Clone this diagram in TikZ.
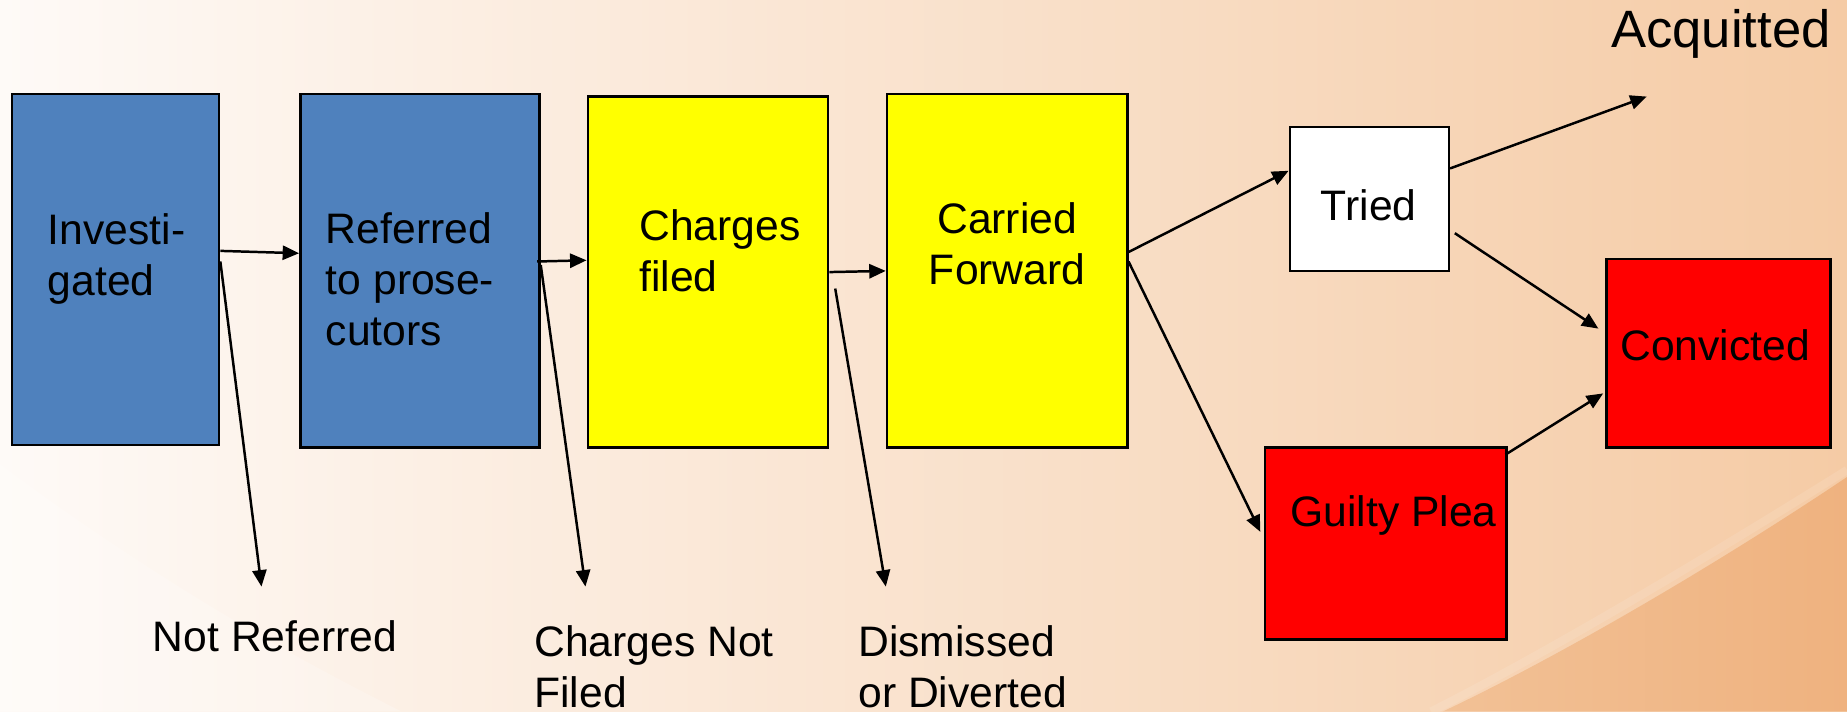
\documentclass[tikz,border=0pt]{standalone}
\usepackage{fontspec}
\setmainfont{Liberation Sans}
\usetikzlibrary{arrows.meta}

\definecolor{stageblue}{HTML}{4F81BD}
\definecolor{stageyellow}{HTML}{FFFF00}
\definecolor{stagered}{HTML}{FF0000}
\definecolor{bgleft}{HTML}{FEFAF7}
\definecolor{bgmid}{HTML}{FCEBDD}
\definecolor{bgright}{HTML}{F5CBA5}
\definecolor{swooshl}{HTML}{F2C196}
\definecolor{swooshr}{HTML}{EFB27F}

\tikzset{
  stage/.style={draw, line width=0.6pt, inner sep=0pt},
  txt/.style={inner sep=0pt, font=\fontsize{10.3}{12.3}\selectfont},
  arr/.style={draw, line width=0.6pt, -{Triangle[length=0.14cm,width=0.12cm]}}
}

\begin{document}
\begin{tikzpicture}
\useasboundingbox (0,0) rectangle (15.68,6.04);

% background
\shade[left color=bgleft, middle color=bgmid, right color=bgright] (0,0) rectangle (15.68,6.04);
\fill[white, opacity=0.2] (0,2.10) .. controls (1.2,1.2) and (2.4,0.5) .. (3.41,0) -- (0,0) -- cycle;
\shade[left color=swooshl, right color=swooshr] (12.25,0) .. controls (13.2,0.45) and (14.5,1.2) .. (15.68,1.99) -- (15.68,0) -- cycle;
\draw[white, opacity=0.1, line width=2pt] (12.15,0) .. controls (13.1,0.48) and (14.4,1.25) .. (15.68,2.05);

% boxes
\node[stage, fill=stageblue, minimum width=1.76cm, minimum height=2.98cm] (inv) at (0.98,3.75) {};
\node[stage, fill=stageblue, minimum width=2.03cm, minimum height=3.00cm] (ref) at (3.565,3.74) {};
\node[stage, fill=stageyellow, minimum width=2.04cm, minimum height=2.98cm] (chg) at (6.01,3.73) {};
\node[stage, fill=stageyellow, minimum width=2.04cm, minimum height=3.00cm] (car) at (8.55,3.74) {};
\node[stage, fill=white, minimum width=1.35cm, minimum height=1.22cm] (tri) at (11.625,4.35) {};
\node[stage, fill=stagered, minimum width=1.90cm, minimum height=1.60cm] (con) at (14.59,3.04) {};
\node[stage, fill=stagered, minimum width=2.05cm, minimum height=1.63cm] (gui) at (11.765,1.425) {};

% texts
\node[txt, anchor=west, align=left] (invt) at (0.40,3.84) {Investi-\\gated};
\node[txt, anchor=west, align=left] (reft) at (2.76,3.67) {Referred\\to prose-\\cutors};
\node[txt, anchor=west, align=left] (chgt) at (5.42,3.91) {Charges\\filed};
\node[txt, align=center] (cart) at (8.55,3.97) {Carried\\Forward};
\node[txt] (trit) at (11.62,4.30) {Tried};
\node[txt] (cont) at (14.56,3.11) {Convicted};
\node[txt] (guit) at (11.83,1.66) {Guilty Plea};
\node[txt, font=\fontsize{12.7}{15}\selectfont] (acq) at (14.61,5.75) {Acquitted};
\node[txt] (notref) at (2.335,0.64) {Not Referred};
\node[txt, anchor=west, align=left] (cnf) at (4.53,0.38) {Charges Not\\Filed};
\node[txt, anchor=west, align=left] (dis) at (7.28,0.38) {Dismissed\\or Diverted};

\coordinate (notrefend) at (2.22,1.06);
\coordinate (cnfend) at (4.97,1.06);
\coordinate (disend) at (7.52,1.06);
\coordinate (acqend) at (13.98,5.22);

% connectors
\path[arr] ([yshift=0.16cm]inv.east) -- ([yshift=0.15cm]ref.west);
\path[arr] ([yshift=0.07cm]inv.east) -- (notrefend);
\path[arr] ([xshift=-0.03cm,yshift=0.08cm]ref.east) -- ([yshift=0.10cm]chg.west);
\path[arr] ([yshift=0.05cm]ref.east) -- (cnfend);
\path[arr] (chg.east) -- (car.west);
\path[arr] ([xshift=0.05cm,yshift=-0.14cm]chg.east) -- (disend);
\path[arr] ([yshift=0.16cm]car.east) -- ([yshift=0.24cm]tri.west);
\path[arr] ([yshift=0.08cm]car.east) -- ([xshift=-0.03cm,yshift=0.10cm]gui.west);
\path[arr] ([yshift=0.26cm]tri.east) -- (acqend);
\path[arr] ([xshift=0.04cm,yshift=-0.29cm]tri.east) -- ([xshift=-0.06cm,yshift=0.21cm]con.west);
\path[arr] ([xshift=-0.02cm,yshift=-0.07cm]gui.north east) -- ([xshift=-0.02cm,yshift=-0.34cm]con.west);
\end{tikzpicture}
\end{document}
